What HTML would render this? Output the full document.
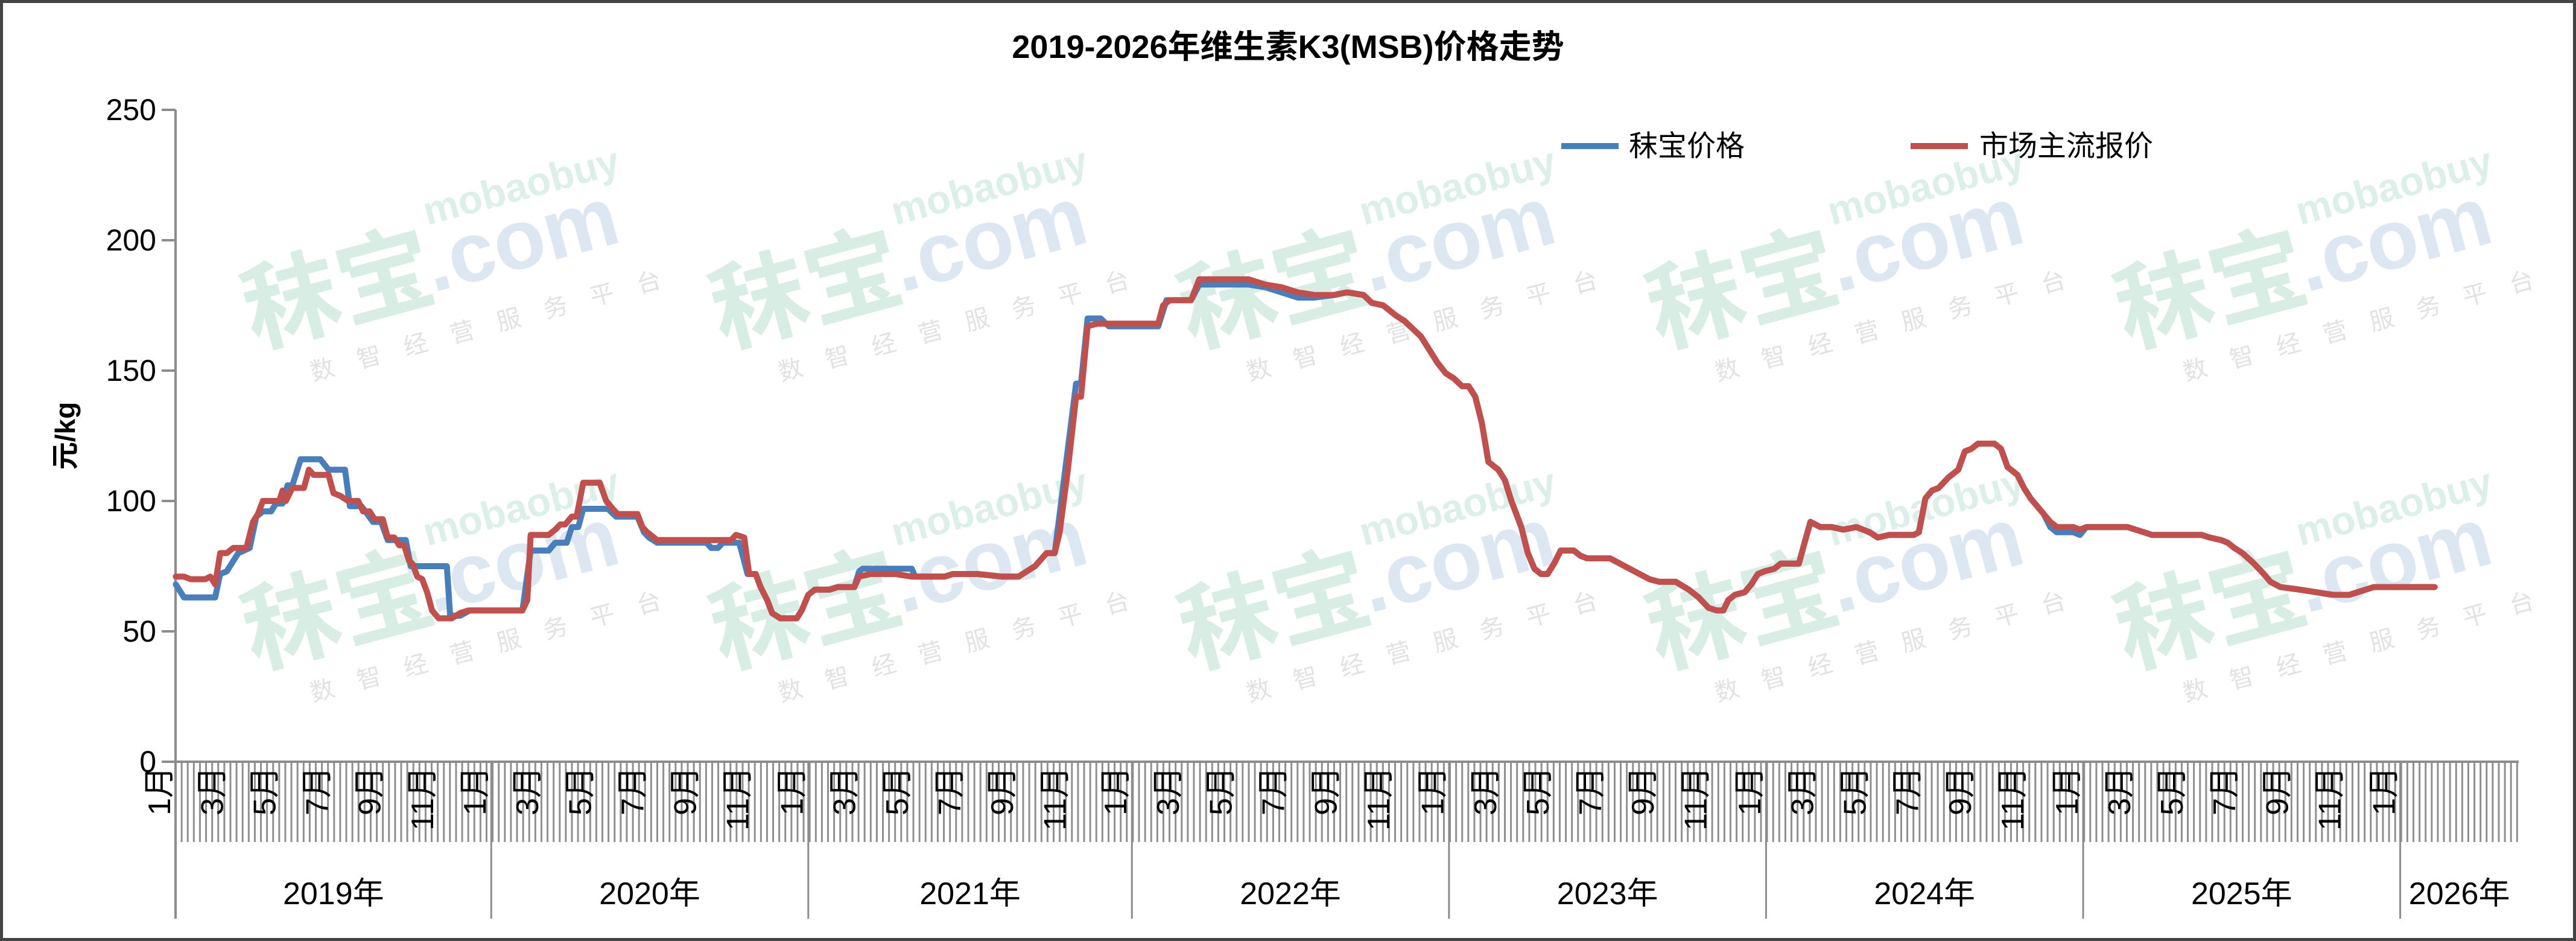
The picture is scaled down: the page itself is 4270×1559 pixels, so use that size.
<!DOCTYPE html>
<html><head><meta charset="utf-8">
<style>
html,body{margin:0;padding:0;background:#fff;}
svg{display:block;}
text{font-family:"Liberation Sans","Noto Sans CJK SC",sans-serif;}
</style></head>
<body>
<svg id="s" width="4270" height="1559" viewBox="0 0 4270 1559" xmlns="http://www.w3.org/2000/svg">
<rect x="2.5" y="2.5" width="4265" height="1554" fill="#fff" stroke="#444" stroke-width="5"/>
<g id="wm"></g>
<text x="2135" y="96" font-size="54" font-weight="bold" text-anchor="middle">2019-2026年维生素K3(MSB)价格走势</text>
<text transform="translate(124,722) rotate(-90)" font-size="46" font-weight="bold" text-anchor="middle">元/kg</text>
<g id="axes"></g>
<g id="series" fill="none" stroke-linejoin="round" stroke-linecap="round"></g>
<line x1="2588" y1="242" x2="2683" y2="242" stroke="#4a7ebb" stroke-width="10"/>
<text x="2700" y="258" font-size="48">秣宝价格</text>
<line x1="3167" y1="242" x2="3262" y2="242" stroke="#c0504d" stroke-width="10"/>
<text x="3281" y="258" font-size="48">市场主流报价</text>
</svg>
<script>
const NS="http://www.w3.org/2000/svg";
function el(p,t,a,txt){const e=document.createElementNS(NS,t);for(const k in a)e.setAttribute(k,a[k]);if(txt!==undefined)e.textContent=txt;p.appendChild(e);return e;}
const K=2.7232, Y0=1262, SY=1080/250;
const X=x=>x*K, Y=v=>Y0-v*SY;
const wm=document.getElementById('wm');
const cols=[250,535,820,1105,1390], rows=[170,365];
rows.forEach(r=>cols.forEach(c=>{
  const g=el(wm,'g',{transform:`translate(${X(c)},${r*2.726}) rotate(-15)`});
  el(g,'text',{x:-280,y:40,'font-size':160,'font-weight':'bold',fill:'#d8eee5'},'秣宝');
  el(g,'text',{x:30,y:30,'font-size':140,'font-weight':'bold',fill:'#dde7f1'},'.com');
  el(g,'text',{x:50,y:-80,'font-size':66,'font-weight':'bold',fill:'#dcefe8'},'mobaobuy');
  el(g,'text',{x:-200,y:120,'font-size':40,fill:'#e2e2e2','letter-spacing':'40'},'数智经营服务平台');
}));
const ax=document.getElementById('axes');
const gray='#8c8c8c';
const yw=525.6/52;
for(let x=291;x<=4175;x+=yw){el(ax,'line',{x1:x,y1:Y0,x2:x,y2:1395,stroke:'#8f8f8f','stroke-width':3});}
el(ax,'line',{x1:291,y1:182,x2:291,y2:1522,stroke:gray,'stroke-width':4});
el(ax,'line',{x1:268,y1:Y0,x2:4175,y2:Y0,stroke:gray,'stroke-width':4});
for(let v=0;v<=250;v+=50){
  el(ax,'line',{x1:268,y1:Y(v),x2:291,y2:Y(v),stroke:gray,'stroke-width':4});
  el(ax,'text',{x:259,y:Y(v)+17,'font-size':50,'text-anchor':'end'},String(v));
}
const yearStarts=[107,299,492,689,882,1075,1268,1461];
yearStarts.forEach((ys,i)=>{
  el(ax,'line',{x1:X(ys),y1:Y0,x2:X(ys),y2:1522,stroke:gray,'stroke-width':3});
  const offs=(i<7)?[-10,22,54,86,118,150]:[-10];
  const names=['1月','3月','5月','7月','9月','11月'];
  offs.forEach((o,j)=>{
    const cx=X(ys+o);
    el(ax,'text',{transform:`translate(${cx+18},1270) rotate(-90)`,'font-size':52,'text-anchor':'end'},names[j]);
  });
});
const yl=['2019年','2020年','2021年','2022年','2023年','2024年','2025年','2026年'];
yl.forEach((t,i)=>{const a=yearStarts[i],b=yearStarts[i+1]||1533;el(ax,'text',{x:X((a+b)/2),y:1498,'font-size':52,'text-anchor':'middle'},t);});
const red=[[107,71],[112,71],[116,70],[125,70],[128,71],[131,68],[134,80],[138,80],[142,82],[150,82],[154,92],[157,95],[160,100],[170,100],[172,104],[174,100],[178,105],[185,105],[188,112],[191,110],[200,110],[203,103],[207,102],[212,100],[218,100],[221,96],[225,96],[228,93],[233,93],[236,86],[240,86],[243,83],[246,83],[249,77],[251,76],[254,71],[257,70],[260,65],[263,58],[267,55],[275,55],[280,57],[285,58],[295,58],[318,58],[321,62],[323,87],[334,87],[338,89],[341,91],[344,91],[348,94],[351,94],[355,107],[365,107],[369,100],[373,97],[376,95],[388,95],[391,90],[394,88],[400,85],[420,85],[445,85],[448,87],[453,86],[456,72],[460,72],[463,67],[467,62],[470,57],[475,55],[485,55],[488,58],[492,64],[496,66],[505,66],[510,67],[520,67],[523,71],[530,72],[545,72],[555,71],[575,71],[580,72],[595,72],[610,71],[620,71],[625,73],[630,75],[637,80],[642,80],[645,88],[650,112],[655,140],[658,140],[662,167],[668,168],[675,168],[700,168],[705,168],[708,175],[712,177],[725,177],[730,185],[745,185],[760,185],[770,183],[780,182],[790,180],[800,179],[812,179],[820,180],[830,179],[835,176],[842,175],[850,171],[855,169],[860,166],[865,163],[870,158],[875,153],[880,149],[885,147],[890,144],[894,144],[898,140],[902,130],[906,115],[912,112],[916,108],[920,100],[926,90],[930,80],[934,74],[938,72],[942,72],[946,76],[950,81],[958,81],[962,79],[966,78],[980,78],[986,76],[992,74],[998,72],[1004,70],[1010,69],[1020,69],[1028,66],[1034,63],[1040,59],[1045,58],[1049,58],[1052,62],[1056,64],[1062,65],[1066,68],[1070,72],[1074,73],[1080,74],[1084,76],[1095,76],[1098,83],[1102,92],[1108,90],[1115,90],[1122,89],[1130,90],[1138,88],[1143,86],[1150,87],[1158,87],[1165,87],[1168,88],[1172,101],[1176,104],[1180,105],[1186,109],[1192,112],[1196,119],[1200,120],[1204,122],[1214,122],[1218,120],[1222,113],[1228,110],[1232,105],[1236,101],[1240,98],[1244,95],[1248,92],[1252,90],[1262,90],[1266,89],[1270,90],[1295,90],[1300,89],[1310,87],[1340,87],[1345,86],[1352,85],[1356,84],[1360,82],[1365,80],[1372,76],[1378,72],[1382,69],[1388,67],[1400,66],[1410,65],[1420,64],[1430,64],[1435,65],[1440,66],[1445,67],[1482,67]];
const blueA=[[107,68],[110,65],[112,63],[131,63],[134,72],[138,73],[145,80],[152,82],[156,94],[160,96],[165,96],[168,99],[172,99],[175,106],[178,106],[183,116],[195,116],[200,112],[210,112],[213,98],[220,98],[227,92],[232,92],[236,85],[247,85],[250,75],[272,75],[274,56],[280,56],[286,58],[295,58],[318,58],[323,81],[334,81],[338,84],[345,84],[348,90],[352,90],[355,97],[370,97],[375,94],[388,94],[392,88],[395,86],[400,84],[430,84],[433,82],[437,82],[440,84],[450,84],[455,72]];
const blueB=[[520,67],[523,73],[525,74],[555,74],[557,71]];
const blueC=[[642,80],[645,95],[650,120],[655,145],[658,145],[662,170],[670,170],[675,167],[705,167],[710,177],[725,177],[730,183],[760,183],[770,182],[780,180],[790,178],[800,178]];
let blue=[];
red.forEach(p=>{const x=p[0];
 if(x<=455||(x>=520&&x<=557)||(x>=642&&x<=800))return;
 blue.push([x,(x>1245&&x<1270)?p[1]-2:p[1]]);});
blue=blue.concat(blueA,blueB,blueC).sort((a,b)=>a[0]-b[0]);
const sg=document.getElementById('series');
const path=d=>d.map((p,i)=>(i?'L':'M')+X(p[0]).toFixed(1)+' '+Y(p[1]).toFixed(1)).join(' ');
el(sg,'path',{d:path(blue),stroke:'#4a7ebb','stroke-width':10});
el(sg,'path',{d:path(red),stroke:'#c0504d','stroke-width':10});
</script>
</body></html>
